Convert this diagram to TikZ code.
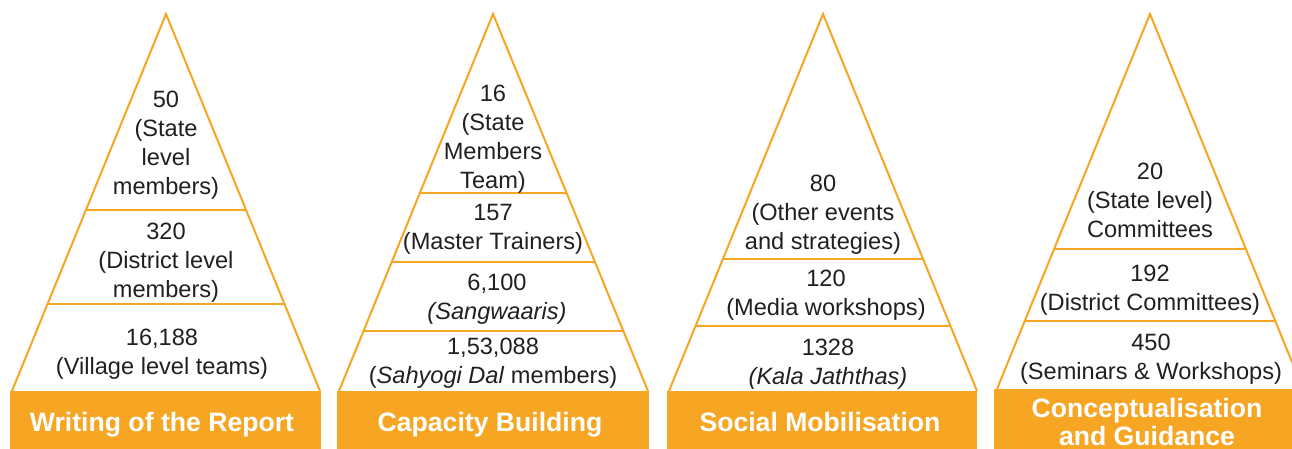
\documentclass[tikz,border=0pt]{standalone}
\usepackage{fontspec}
\setmainfont{Liberation Sans}
\usepackage{tikz}
\usetikzlibrary{calc,positioning}
\definecolor{pyrorange}{RGB}{246,166,35}
\definecolor{pyrtext}{RGB}{35,31,32}

\begin{document}
\begin{tikzpicture}[
  x=0.5pt, y=-0.5pt,
  tier/.style={draw=pyrorange,line width=1pt,line join=miter},
  divider/.style={draw=pyrorange,line width=1pt},
  figtext/.style={align=center,text=pyrtext,inner sep=0pt,font=\fontsize{11.8}{14.5}\selectfont},
  banner/.style={fill=pyrorange,draw=none},
  bannertext/.style={align=center,text=white,inner sep=0pt,font=\fontsize{13.3}{14}\selectfont\bfseries}
]
\useasboundingbox (0,0) rectangle (1292,449);

% first pyramid
\coordinate (a1) at (166,14);
\coordinate (l1) at (12,391);
\coordinate (r1) at (320,391);
\fill[banner] (10,391) rectangle (321,449);
\draw[tier] (l1) -- (a1) -- (r1);
\draw[divider] ($(a1)!0.52!(l1)$) -- ($(a1)!0.52!(r1)$);
\draw[divider] ($(a1)!0.769!(l1)$) -- ($(a1)!0.769!(r1)$);
\node[figtext] (n11) at (166,145.5) {50\\(State\\level\\members)};
\node[figtext] (n12) at (166,263) {320\\(District level\\members)};
\node[figtext] (n13) at (162,354.5) {16,188\\(Village level teams)};
\node[bannertext,anchor=base] (bt1) at (162,431.5) {Writing of the Report};

% second pyramid
\coordinate (a2) at (493,14);
\coordinate (l2) at (339,391);
\coordinate (r2) at (648,391);
\fill[banner] (337,391) rectangle (649,449);
\draw[tier] (l2) -- (a2) -- (r2);
\draw[divider] ($(a2)!0.475!(l2)$) -- ($(a2)!0.475!(r2)$);
\draw[divider] ($(a2)!0.658!(l2)$) -- ($(a2)!0.658!(r2)$);
\draw[divider] ($(a2)!0.841!(l2)$) -- ($(a2)!0.841!(r2)$);
\node[figtext] (n21) at (493,139.5) {16\\(State\\Members\\Team)};
\node[figtext] (n22) at (493,229.5) {157\\(Master Trainers)};
\node[figtext] (n23) at (497,299.5) {6,100\\\textit{(Sangwaaris)}};
\node[figtext] (n24) at (493,363.5) {1,53,088\\(\textit{Sahyogi Dal} members)};
\node[bannertext,anchor=base] (bt2) at (490,431.5) {Capacity Building};

% third pyramid
\coordinate (a3) at (823,14);
\coordinate (l3) at (669,391);
\coordinate (r3) at (977,391);
\fill[banner] (667,391) rectangle (977,449);
\draw[tier] (l3) -- (a3) -- (r3);
\draw[divider] ($(a3)!0.65!(l3)$) -- ($(a3)!0.65!(r3)$);
\draw[divider] ($(a3)!0.828!(l3)$) -- ($(a3)!0.828!(r3)$);
\node[figtext] (n31) at (823,215) {80\\(Other events\\and strategies)};
\node[figtext] (n32) at (826,295.5) {120\\(Media workshops)};
\node[figtext] (n33) at (828,364.5) {1328\\\textit{(Kala Jaththas)}};
\node[bannertext,anchor=base] (bt3) at (820,431.5) {Social Mobilisation};

% fourth pyramid
\coordinate (a4) at (1150,14);
\coordinate (l4) at (997,389);
\coordinate (r4) at (1303,389);
\fill[banner] (994,389) rectangle (1292,449);
\draw[tier] (l4) -- (a4) -- (r4);
\draw[divider] ($(a4)!0.627!(l4)$) -- ($(a4)!0.627!(r4)$);
\draw[divider] ($(a4)!0.819!(l4)$) -- ($(a4)!0.819!(r4)$);
\node[figtext] (n41) at (1150,200) {20\\(State level)\\Committees};
\node[figtext] (n42) at (1150,290.5) {192\\(District Committees)};
\node[figtext] (n43) at (1151,359.5) {450\\(Seminars \& Workshops)};
\node[bannertext] (bt4) at (1147,421.5) {Conceptualisation\\and Guidance};
\end{tikzpicture}
\end{document}
